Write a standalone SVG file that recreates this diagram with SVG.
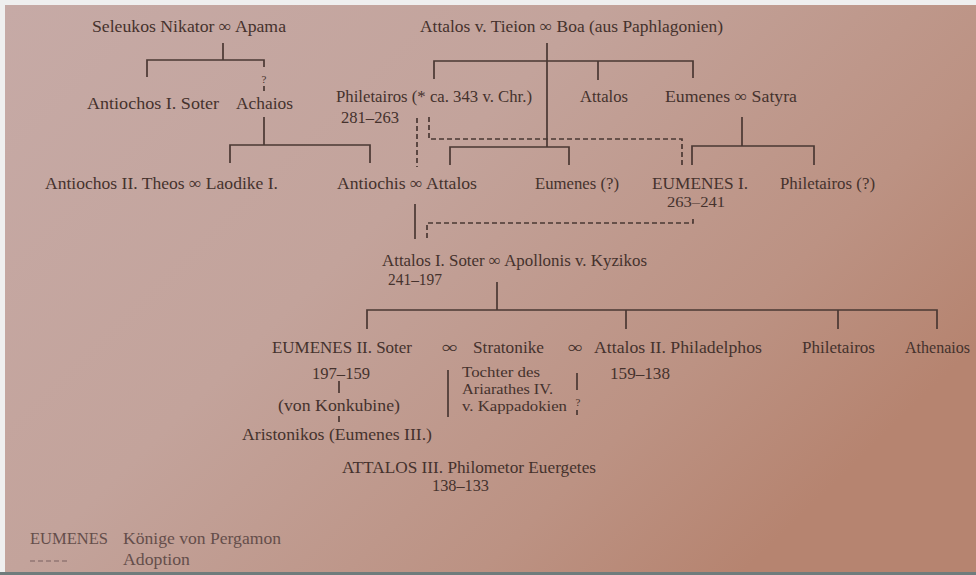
<svg xmlns="http://www.w3.org/2000/svg" width="976" height="575" viewBox="0 0 976 575">
<defs>
<linearGradient id="paper" x1="0" y1="0" x2="1" y2="0.6">
<stop offset="0" stop-color="#c6aaa6"/>
<stop offset="0.45" stop-color="#c3a39b"/>
<stop offset="0.8" stop-color="#bc9283"/>
<stop offset="1" stop-color="#b68470"/>
</linearGradient>
<style>
text{font-family:"Liberation Serif","DejaVu Serif",serif;font-size:17px;fill:#45322d}
.leg{fill:#654e4b}
.sm{font-size:15px}
.q{font-size:11px}
.s{fill:none;stroke:#4a3833;stroke-width:1.7}
.d{fill:none;stroke:#4a3833;stroke-width:1.7;stroke-dasharray:5 3}
.ld{fill:none;stroke:#7a6060;stroke-width:1.2;stroke-dasharray:5 3}
</style>
</defs>
<rect x="0" y="0" width="976" height="575" fill="#efefef"/>
<rect x="5" y="5" width="971" height="568" fill="url(#paper)"/>
<rect x="0" y="572" width="976" height="3" fill="#6f7c7c"/>

<g id="connectors">
<path class="s" d="M223 43V60M147 77V60H264V67"/>
<path class="d" d="M264 86V93"/>
<path class="s" d="M264 117V145M230 163V145H370V163"/>
<path class="s" d="M547 43V147M434 79V61H693V78M598 61V80"/>
<path class="s" d="M450 165V147H569V165"/>
<path class="s" d="M742 117V146M692 165V146H814V165"/>
<path class="d" d="M417 118V167"/>
<path class="d" d="M429 117V139H682V165"/>
<path class="s" d="M415 204V239"/>
<path class="d" d="M427 238V223H693V217"/>
<path class="s" d="M497 282V310M367 329V310H937V329M626 310V329M838 310V329"/>
<path class="s" d="M339 381V393M339 416V422"/>
<path class="s" d="M448 370V417"/>
<path class="s" d="M577 373V390"/>
<path class="d" d="M577 410V418"/>
<text class="q" x="264" y="83" text-anchor="middle">?</text>
<text class="q" x="578" y="406" text-anchor="middle">?</text>
</g>

<g id="seleukos"><text x="92" y="32" textLength="194" lengthAdjust="spacingAndGlyphs">Seleukos Nikator ∞ Apama</text></g>
<g id="attalos-tieion"><text x="420" y="32" textLength="303" lengthAdjust="spacingAndGlyphs">Attalos v. Tieion ∞ Boa (aus Paphlagonien)</text></g>
<g id="antiochos1"><text x="87" y="109" textLength="132" lengthAdjust="spacingAndGlyphs">Antiochos I. Soter</text></g>
<g id="achaios"><text x="236" y="109" textLength="57" lengthAdjust="spacingAndGlyphs">Achaios</text></g>
<g id="philetairos"><text x="336" y="102" textLength="196" lengthAdjust="spacingAndGlyphs">Philetairos (* ca. 343 v. Chr.)</text>
<text x="341" y="123" textLength="58" lengthAdjust="spacingAndGlyphs">281–263</text></g>
<g id="attalos"><text x="580" y="102" textLength="48" lengthAdjust="spacingAndGlyphs">Attalos</text></g>
<g id="eumenes-satyra"><text x="665" y="102" textLength="132" lengthAdjust="spacingAndGlyphs">Eumenes ∞ Satyra</text></g>
<g id="antiochos2"><text x="45" y="189" textLength="233" lengthAdjust="spacingAndGlyphs">Antiochos II. Theos ∞ Laodike I.</text></g>
<g id="antiochis"><text x="337" y="189" textLength="140" lengthAdjust="spacingAndGlyphs">Antiochis ∞ Attalos</text></g>
<g id="eumenes-q"><text x="535" y="189" textLength="84" lengthAdjust="spacingAndGlyphs">Eumenes (?)</text></g>
<g id="eumenes1"><text x="652" y="189" textLength="96" lengthAdjust="spacingAndGlyphs">EUMENES I.</text>
<text class="sm" x="667" y="207" textLength="58" lengthAdjust="spacingAndGlyphs">263–241</text></g>
<g id="philetairos-q"><text x="780" y="189" textLength="95" lengthAdjust="spacingAndGlyphs">Philetairos (?)</text></g>
<g id="attalos1"><text x="382" y="266" textLength="265" lengthAdjust="spacingAndGlyphs">Attalos I. Soter ∞ Apollonis v. Kyzikos</text>
<text x="388" y="285" textLength="54" lengthAdjust="spacingAndGlyphs">241–197</text></g>
<g id="eumenes2"><text x="272" y="353" textLength="140" lengthAdjust="spacingAndGlyphs">EUMENES II. Soter</text>
<text x="312" y="379" textLength="58" lengthAdjust="spacingAndGlyphs">197–159</text>
<text x="278" y="411" textLength="122" lengthAdjust="spacingAndGlyphs">(von Konkubine)</text></g>
<g id="marriage1"><text x="442" y="353" textLength="16" lengthAdjust="spacingAndGlyphs">∞</text></g>
<g id="stratonike"><text x="473" y="353" textLength="71" lengthAdjust="spacingAndGlyphs">Stratonike</text>
<text class="sm" x="462" y="377" textLength="78" lengthAdjust="spacingAndGlyphs">Tochter des</text>
<text class="sm" x="462" y="394" textLength="91" lengthAdjust="spacingAndGlyphs">Ariarathes IV.</text>
<text class="sm" x="462" y="411" textLength="105" lengthAdjust="spacingAndGlyphs">v. Kappadokien</text></g>
<g id="marriage2"><text x="568" y="353" textLength="15" lengthAdjust="spacingAndGlyphs">∞</text></g>
<g id="attalos2"><text x="594" y="353" textLength="168" lengthAdjust="spacingAndGlyphs">Attalos II. Philadelphos</text>
<text x="610" y="379" textLength="60" lengthAdjust="spacingAndGlyphs">159–138</text></g>
<g id="philetairos2"><text x="802" y="353" textLength="73" lengthAdjust="spacingAndGlyphs">Philetairos</text></g>
<g id="athenaios"><text x="905" y="353" textLength="65" lengthAdjust="spacingAndGlyphs">Athenaios</text></g>
<g id="aristonikos"><text x="242" y="440" textLength="190" lengthAdjust="spacingAndGlyphs">Aristonikos (Eumenes III.)</text></g>
<g id="attalos3"><text x="342" y="473" textLength="254" lengthAdjust="spacingAndGlyphs">ATTALOS III. Philometor Euergetes</text>
<text x="432" y="491" textLength="57" lengthAdjust="spacingAndGlyphs">138–133</text></g>

<g id="legend">
<text class="leg" x="30" y="544" textLength="78" lengthAdjust="spacingAndGlyphs">EUMENES</text>
<text class="leg" x="123" y="544" textLength="158" lengthAdjust="spacingAndGlyphs">Könige von Pergamon</text>
<path class="ld" d="M30 561H67"/>
<text class="leg" x="123" y="565" textLength="67" lengthAdjust="spacingAndGlyphs">Adoption</text>
</g>
</svg>
